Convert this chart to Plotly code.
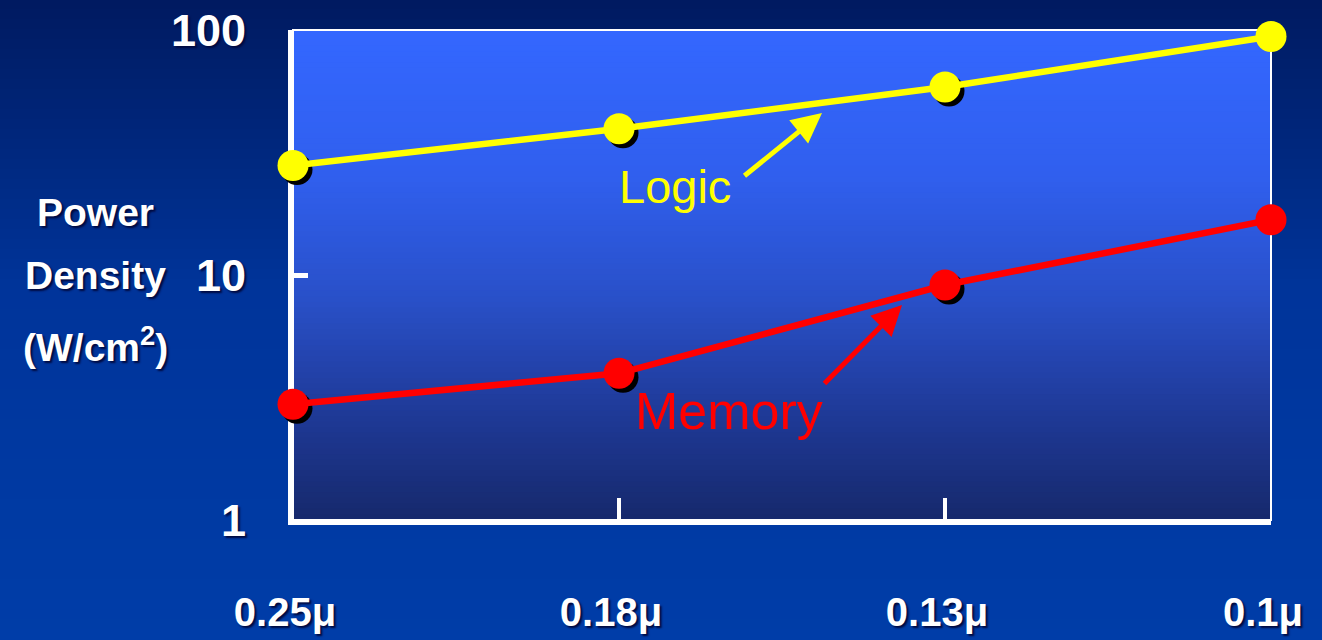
import plotly.graph_objects as go

# ---- data ----
nodes = ["0.25μ", "0.18μ", "0.13μ", "0.1μ"]
logic = [28, 39.5, 58.5, 94]
memory = [2.97, 3.97, 9.1, 16.8]
y_tick_vals = [1, 10, 100]
y_tick_text = ["1", "10", "100"]

W, H = 1322, 640
L, R, T, B = 293, 51, 30, 120
PW, PH = W - L - R, H - T - B

def hex2rgb(h):
    h = h.lstrip("#")
    return tuple(int(h[i:i + 2], 16) for i in (0, 2, 4))

def interp(stops, t):
    for (t0, c0), (t1, c1) in zip(stops[:-1], stops[1:]):
        if t0 <= t <= t1:
            f = (t - t0) / (t1 - t0) if t1 > t0 else 0
            a, b = hex2rgb(c0), hex2rgb(c1)
            return "rgb(%d,%d,%d)" % tuple(round(a[k] + (b[k] - a[k]) * f) for k in range(3))
    return stops[-1][1]

shapes = []
# outer background gradient (t = 0 top, 1 bottom)
outer_stops = [(0, "#001A60"), (0.45, "#00349A"), (1, "#003DA8")]
N = 64
y_top, y_bot = 1 + T / PH, -B / PH
x_l, x_r = -L / PW, 1 + R / PW
for i in range(N):
    t = (i + 0.5) / N
    ya = y_top - (y_top - y_bot) * i / N
    yb = y_top - (y_top - y_bot) * (i + 1) / N
    shapes.append(dict(type="rect", xref="paper", yref="paper", x0=x_l, x1=x_r,
                       y0=yb - 0.002, y1=ya + 0.002, line_width=0,
                       fillcolor=interp(outer_stops, t), layer="below"))
# plot-area gradient
inner_stops = [(0, "#3467FF"), (0.3, "#305FEE"), (0.55, "#2950C8"), (0.8, "#1E3894"), (1, "#16296C")]
N2 = 90
for i in range(N2):
    t = (i + 0.5) / N2
    ya = 1 - i / N2
    yb = 1 - (i + 1) / N2
    shapes.append(dict(type="rect", xref="paper", yref="paper", x0=0, x1=1,
                       y0=yb - 0.001, y1=ya + 0.001, line_width=0,
                       fillcolor=interp(inner_stops, t), layer="below"))
# thin frame
shapes.append(dict(type="rect", xref="paper", yref="paper", x0=0, x1=1, y0=0, y1=1,
                   line=dict(color="white", width=2), layer="below"))

fig = go.Figure()

MS = 31
# drop shadows for markers (base axes, shifted a few px right/down)
for vals in (memory, logic):
    fig.add_trace(go.Scatter(x=nodes, y=vals, mode="markers", xaxis="x", yaxis="y",
                             marker=dict(size=MS, color="black", line_width=0),
                             cliponaxis=False, hoverinfo="skip", showlegend=False))

fig.add_trace(go.Scatter(x=nodes, y=memory, mode="lines+markers", xaxis="x2", yaxis="y2",
                         line=dict(color="#FF0000", width=6.5),
                         marker=dict(size=MS, color="#FF0000", line_width=0),
                         cliponaxis=False, name="Memory", showlegend=False))
fig.add_trace(go.Scatter(x=nodes, y=logic, mode="lines+markers", xaxis="x2", yaxis="y2",
                         line=dict(color="#FFFF00", width=6.5),
                         marker=dict(size=MS, color="#FFFF00", line_width=0),
                         cliponaxis=False, name="Logic", showlegend=False))

dx = 4 * 3 / PW
dy = 4 * 2 / PH
shadow = "2px 2px 2px #000a40"

def paper_x(px):
    return (px - L) / PW

def paper_y(py):
    return (H - B - py) / PH

annotations = [
    dict(text="Logic", x=paper_x(675), y=paper_y(187), xref="paper", yref="paper",
         xanchor="center", yanchor="middle", showarrow=False,
         font=dict(family="Liberation Sans, Arial", size=47, color="#FFFF00")),
    dict(text="Memory", x=paper_x(729), y=paper_y(411), xref="paper", yref="paper",
         xanchor="center", yanchor="middle", showarrow=False,
         font=dict(family="Liberation Sans, Arial", size=52, color="#FF0000")),
    dict(text="", x=paper_x(822), y=paper_y(113), xref="paper", yref="paper",
         showarrow=True, ax=-79, ay=64, arrowhead=2, arrowwidth=5, arrowsize=1.2,
         arrowcolor="#FFFF00"),
    dict(text="", x=paper_x(902), y=paper_y(305), xref="paper", yref="paper",
         showarrow=True, ax=-79, ay=80, arrowhead=2, arrowwidth=5, arrowsize=1.2,
         arrowcolor="#FF0000"),
]
for txt, py in (("Power", 212), ("Density", 275), ("(W/cm<sup>2</sup>)", 344)):
    annotations.append(dict(text=txt, x=paper_x(95), y=paper_y(py), xref="paper", yref="paper",
                            xanchor="center", yanchor="middle", showarrow=False,
                            font=dict(family="Liberation Sans, Arial", size=39, color="white",
                                      weight="bold", shadow=shadow)))

fig.update_layout(
    template="none",
    width=W, height=H, autosize=False,
    margin=dict(l=L, r=R, t=T, b=B, pad=0, autoexpand=False),
    paper_bgcolor="#002070",
    plot_bgcolor="rgba(0,0,0,0)",
    shapes=shapes,
    annotations=annotations,
    showlegend=False,
    xaxis=dict(domain=[0, 1], type="category", categoryorder="array", categoryarray=nodes,
               range=[-dx, 3 - dx], visible=False, fixedrange=True, automargin=False),
    yaxis=dict(domain=[0, 1], type="log", range=[dy, 2 + dy], visible=False,
               fixedrange=True, automargin=False),
    xaxis2=dict(overlaying="x", anchor="y2", type="category", categoryorder="array",
                categoryarray=nodes, range=[0, 3], showgrid=False, zeroline=False,
                automargin=False, fixedrange=True,
                showline=True, linecolor="white", linewidth=5, layer="below traces",
                ticks="inside", ticklen=22, tickwidth=4, tickcolor="white",
                ticklabelstandoff=53, ticklabelshift=-8,
                tickfont=dict(family="Liberation Sans, Arial", size=40, color="white",
                              weight="bold", shadow=shadow)),
    yaxis2=dict(overlaying="y", anchor="x2", side="left", type="log", range=[0, 2],
                showgrid=False, zeroline=False, showline=True, linecolor="white", linewidth=5,
                automargin=False, fixedrange=True,
                layer="below traces", ticks="inside", ticklen=15, tickwidth=5,
                tickcolor="white", tickvals=y_tick_vals, ticktext=y_tick_text,
                ticklabelstandoff=33,
                tickfont=dict(family="Liberation Sans, Arial", size=45, color="white",
                              weight="bold", shadow=shadow)),
)

fig.write_html("out.html", config={"displayModeBar": False},
               post_script="document.body.style.margin='0px';document.body.style.overflow='hidden';")
